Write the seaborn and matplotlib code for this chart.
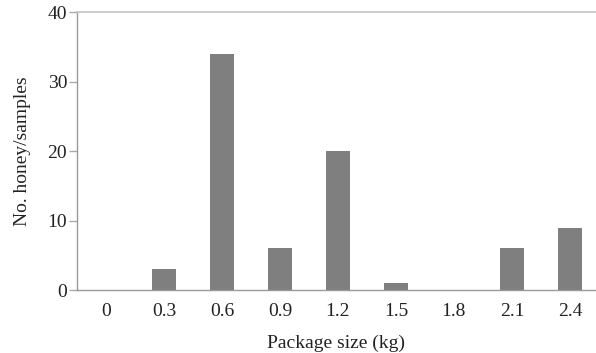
import matplotlib
matplotlib.use("Agg")
import matplotlib.pyplot as plt
import seaborn as sns
import pandas as pd
import numpy as np

categories = ["0", "0.3", "0.6", "0.9", "1.2", "1.5", "1.8", "2.1", "2.4"]
counts = [0, 3, 34, 6, 20, 1, 0, 6, 9]
y_ticks = [0, 10, 20, 30, 40]

sns.set_style("white")
plt.rcParams["font.family"] = ["Liberation Serif", "DejaVu Serif"]

df = pd.DataFrame({"size": categories, "count": counts})

fig = plt.figure(figsize=(5.96, 3.53), dpi=100)
ax = fig.add_axes([0.129, 0.178, 0.871, 0.788])

sns.barplot(data=df, x="size", y="count", order=categories, color="#7f7f7f",
            saturation=1, width=0.41, ax=ax, linewidth=0)

ax.set_ylim(0, 40)
ax.set_yticks(y_ticks)
ax.set_xlim(-0.5, 8.45)
ax.set_xticks(range(len(categories)))
ax.set_xticklabels(categories)
ax.set_xticks(np.arange(len(categories)) - 0.5, minor=True)

ax.tick_params(axis="x", which="major", length=0, pad=9, labelsize=14, colors="#222222")
ax.tick_params(axis="x", which="minor", length=6, width=1, color="#999999", direction="out")
ax.tick_params(axis="y", which="major", length=6, width=1, color="#aaaaaa", left=True,
               labelsize=14, labelcolor="#222222", pad=1)

for s in ["left", "bottom"]:
    ax.spines[s].set_color("#999999")
    ax.spines[s].set_linewidth(1)
ax.spines["right"].set_visible(False)
ax.spines["top"].set_color("#c4c4c4")
ax.spines["top"].set_linewidth(1.2)

ax.set_xlabel("Package size (kg)", fontsize=14, color="#222222", labelpad=11)
ax.set_ylabel("No. honey/samples", fontsize=14, color="#222222", labelpad=12)

fig.savefig("out.png", dpi=100)
